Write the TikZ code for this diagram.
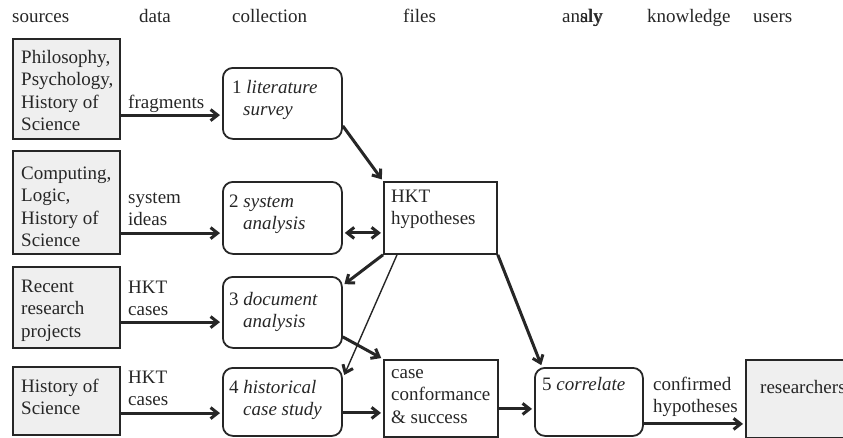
\documentclass[tikz,border=0pt]{standalone}
\usepackage{fontspec}
\setmainfont{Liberation Serif}
\usetikzlibrary{arrows.meta}
\definecolor{ink}{HTML}{262626}
\definecolor{srcfill}{HTML}{EFEFEF}
% left-aligned stack of lines whose baseline is the first line
\newcommand{\stack}[1]{\begin{tabular}[t]{@{}l@{}}#1\end{tabular}}
\begin{document}
\begin{tikzpicture}[x=1pt,y=-1pt,
  font=\fontsize{19}{22.5}\selectfont, text=ink,
  boxbase/.style={draw=ink, anchor=north west, inner sep=0pt},
  srcbox/.style={boxbase, fill=srcfill, line width=2.2pt},
  procbox/.style={boxbase, line width=1.8pt, rounded corners=10pt},
  filebox/.style={boxbase, line width=1.8pt},
  txt/.style={anchor=base west, inner sep=0pt},
  barb/.tip={Straight Barb[length=7pt,width=11pt]},
  arr/.style={draw=ink, line width=3pt, -barb, shorten >=2pt},
  dblarr/.style={draw=ink, line width=3pt, barb-barb, shorten >=2pt, shorten <=2pt},
  thinarr/.style={draw=ink, line width=1.4pt, -{Straight Barb[length=7pt,width=11pt,line width=3pt]}, shorten >=1pt}
]
\useasboundingbox (0,0) rectangle (843,437);
\clip (0,0) rectangle (843,437);

% column headings
\node[txt] (hsrc)  at (12,22)  {sources};
\node[txt] (hdata) at (139,22) {data};
\node[txt] (hcoll) at (232,22) {collection};
\node[txt] (hfile) at (403,22) {files};
\node[txt] (hana)  at (562,22) {an\rlap{aly}sly};
\node[txt] (hknow) at (647,22) {knowledge};
\node[txt] (huser) at (753,22) {users};

% sources
\node[srcbox, minimum width=107pt, minimum height=100pt] (s1) at (12,38) {};
\node[srcbox, minimum width=107pt, minimum height=103pt] (s2) at (12,150) {};
\node[srcbox, minimum width=107pt, minimum height=81pt]  (s3) at (12,266) {};
\node[srcbox, minimum width=107pt, minimum height=68pt]  (s4) at (12,366) {};
\node[txt] (s1t) at (21,63)  {\stack{Philosophy,\\Psychology,\\History of\\Science}};
\node[txt] (s2t) at (21,179) {\stack{Computing,\\Logic,\\History of\\Science}};
\node[txt] (s3t) at (21,292) {\stack{Recent\\research\\projects}};
\node[txt] (s4t) at (21,392) {\stack{History of\\Science}};

% collection steps
\node[procbox, minimum width=119pt, minimum height=71pt] (p1) at (222,67) {};
\node[procbox, minimum width=119pt, minimum height=72pt] (p2) at (222,181) {};
\node[procbox, minimum width=119pt, minimum height=71pt] (p3) at (222,276) {};
\node[procbox, minimum width=119pt, minimum height=68pt] (p4) at (222,367) {};
\node[txt] (p1t) at (232,93)  {\stack{1 \textit{literature}\\\hspace*{11pt}\textit{survey}}};
\node[txt] (p2t) at (229,207) {\stack{2 \textit{system}\\\hspace*{14pt}\textit{analysis}}};
\node[txt] (p3t) at (229,305) {\stack{3 \textit{document}\\\hspace*{14pt}\textit{analysis}}};
\node[txt] (p4t) at (229,393) {\stack{4 \textit{historical}\\\hspace*{14pt}\textit{case study}}};

% files
\node[filebox, minimum width=113pt, minimum height=72pt] (hkt)  at (383,181) {};
\node[filebox, minimum width=114pt, minimum height=77pt] (case) at (383,359) {};
\node[txt] (hktt)  at (391,202) {\stack{HKT\\hypotheses}};
\node[txt] (caset) at (391,378) {\stack{case\\conformance\\\& success}};

% analysis and users
\node[procbox, minimum width=108pt, minimum height=68pt] (corr) at (534,367) {};
\node[txt] (corrt) at (542,390) {5 \textit{correlate}};
\node[srcbox, minimum width=110pt, minimum height=78pt] (res) at (745,359) {};
\node[txt] (rest) at (760,393) {researchers};

% data labels
\node[txt] (d1) at (128,108) {fragments};
\node[txt] (d2) at (128,203) {\stack{system\\ideas}};
\node[txt] (d3) at (128,293) {\stack{HKT\\cases}};
\node[txt] (d4) at (128,383) {\stack{HKT\\cases}};
\node[txt] (d5) at (653,390) {\stack{confirmed\\hypotheses}};

% connectors
\draw[arr] ([yshift=-26pt]s1.east) -- ([yshift=-26pt]s1.east -| p1.west);
\draw[arr] ([yshift=-30.5pt]s2.east) -- ([yshift=-30.5pt]s2.east -| p2.west);
\draw[arr] ([yshift=-14.5pt]s3.east) -- ([yshift=-14.5pt]s3.east -| p3.west);
\draw[arr] ([yshift=-12pt]s4.east) -- ([yshift=-12pt]s4.east -| p4.west);
\draw[arr] ([yshift=-22.5pt]p1.east) -- (hkt.north west);
\draw[dblarr] ([yshift=-15pt]p2.east) -- ([yshift=-15pt]p2.east -| hkt.west);
\draw[arr] (hkt.south west) -- ([yshift=27pt]p3.east);
\draw[thinarr] ([xshift=14pt]hkt.south west) -- ([xshift=1pt,yshift=26pt]p4.east);
\draw[arr] ([yshift=-24.5pt]p3.east) -- (case.north west);
\draw[arr] ([yshift=-11pt]p4.east) -- ([yshift=-11pt]p4.east -| case.west);
\draw[arr] (hkt.south east) -- ([xshift=8pt]corr.north west);
\draw[arr] ([yshift=-10.5pt]case.east) -- ([yshift=-10.5pt]case.east -| corr.west);
\draw[arr] ([yshift=-22pt]corr.east) -- ([yshift=-22pt]corr.east -| res.west);
\end{tikzpicture}
\end{document}
